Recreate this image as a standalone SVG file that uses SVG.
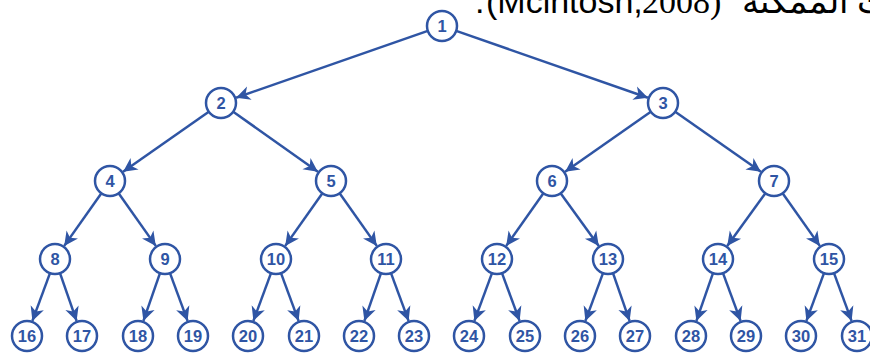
<svg xmlns="http://www.w3.org/2000/svg" width="870" height="356" viewBox="0 0 870 356">
  <style>
    .node circle { fill: #ffffff; stroke: #2F55A4; stroke-width: 2.5; }
    .node text { font-family: "Liberation Sans", Arial, sans-serif; font-weight: bold; font-size: 16.5px; fill: #2F55A4; text-anchor: middle; dominant-baseline: central; }
    #edges line { stroke: #2F55A4; stroke-width: 2.5; marker-end: url(#arrow); }
    .caption { font-family: "Liberation Sans", Arial, sans-serif; font-size: 34px; fill: #000000; }
    .caption-serif { font-family: "Liberation Serif", "Times New Roman", serif; font-size: 34px; fill: #000000; }
  </style>
  <defs>
    <marker id="arrow" markerUnits="userSpaceOnUse" markerWidth="16" markerHeight="16" refX="14" refY="8" orient="auto">
      <path d="M0,1 L14,8 L0,15 L4,8 z" fill="#2F55A4"/>
    </marker>
  </defs>

  <rect width="870" height="356" fill="#ffffff"/>

  <!-- caption line, partly cut off at the top edge -->
  <g id="caption">
    <text class="caption" x="475" y="13">.</text>
    <text class="caption" x="486" y="13">(Mcintosh,</text>
    <text class="caption-serif" x="642" y="13">2008)</text>
    <text class="caption" x="742" y="13" direction="rtl" text-anchor="end">ت الممكنة</text>
  </g>

  <!-- connectors: parent rim to child rim, arrowhead at child -->
  <g id="edges">
    <line x1="427.8" y1="30.9" x2="236.1" y2="97.7"/>
    <line x1="456.2" y1="30.9" x2="647.9" y2="97.7"/>

    <line x1="208.8" y1="111.7" x2="123.1" y2="171.7"/>
    <line x1="233.2" y1="111.7" x2="317.9" y2="171.7"/>
    <line x1="650.8" y1="111.7" x2="565.1" y2="171.7"/>
    <line x1="675.2" y1="111.7" x2="760.9" y2="171.7"/>

    <line x1="101.4" y1="193.3" x2="64.2" y2="245.9"/>
    <line x1="118.6" y1="193.3" x2="155.8" y2="245.9"/>
    <line x1="322.4" y1="193.3" x2="285.2" y2="245.9"/>
    <line x1="339.6" y1="193.3" x2="376.8" y2="245.9"/>
    <line x1="543.4" y1="193.3" x2="506.2" y2="245.9"/>
    <line x1="560.6" y1="193.3" x2="598.8" y2="245.9"/>
    <line x1="765.4" y1="193.3" x2="727.2" y2="245.9"/>
    <line x1="782.6" y1="193.3" x2="819.8" y2="245.9"/>

    <line x1="50" y1="273.1" x2="32.4" y2="320.9"/>
    <line x1="60" y1="273.1" x2="76.6" y2="320.9"/>
    <line x1="160" y1="273.1" x2="143.4" y2="320.9"/>
    <line x1="170" y1="273.1" x2="187.6" y2="320.9"/>
    <line x1="271" y1="273.1" x2="253.4" y2="320.9"/>
    <line x1="281" y1="273.1" x2="298.6" y2="320.9"/>
    <line x1="381" y1="273.1" x2="364.4" y2="320.9"/>
    <line x1="391" y1="273.1" x2="408.6" y2="320.9"/>
    <line x1="492" y1="273.1" x2="474.4" y2="320.9"/>
    <line x1="502" y1="273.1" x2="519.6" y2="320.9"/>
    <line x1="603" y1="273.1" x2="585.4" y2="320.9"/>
    <line x1="613" y1="273.1" x2="629.6" y2="320.9"/>
    <line x1="713" y1="273.1" x2="696.4" y2="320.9"/>
    <line x1="723" y1="273.1" x2="740.6" y2="320.9"/>
    <line x1="824" y1="273.1" x2="806.4" y2="320.9"/>
    <line x1="834" y1="273.1" x2="851.6" y2="320.9"/>
  </g>

  <!-- level 0 -->
  <g id="n1" class="node"><circle cx="442" cy="26" r="15"/><text x="442" y="26">1</text></g>
  <!-- level 1 -->
  <g id="n2" class="node"><circle cx="221" cy="103" r="15"/><text x="221" y="103">2</text></g>
  <g id="n3" class="node"><circle cx="663" cy="103" r="15"/><text x="663" y="103">3</text></g>
  <!-- level 2 -->
  <g id="n4" class="node"><circle cx="110" cy="181" r="15"/><text x="110" y="181">4</text></g>
  <g id="n5" class="node"><circle cx="331" cy="181" r="15"/><text x="331" y="181">5</text></g>
  <g id="n6" class="node"><circle cx="552" cy="181" r="15"/><text x="552" y="181">6</text></g>
  <g id="n7" class="node"><circle cx="774" cy="181" r="15"/><text x="774" y="181">7</text></g>
  <!-- level 3 -->
  <g id="n8" class="node"><circle cx="55" cy="259" r="15"/><text x="55" y="259">8</text></g>
  <g id="n9" class="node"><circle cx="165" cy="259" r="15"/><text x="165" y="259">9</text></g>
  <g id="n10" class="node"><circle cx="276" cy="259" r="15"/><text x="276" y="259">10</text></g>
  <g id="n11" class="node"><circle cx="386" cy="259" r="15"/><text x="386" y="259">11</text></g>
  <g id="n12" class="node"><circle cx="497" cy="259" r="15"/><text x="497" y="259">12</text></g>
  <g id="n13" class="node"><circle cx="608" cy="259" r="15"/><text x="608" y="259">13</text></g>
  <g id="n14" class="node"><circle cx="718" cy="259" r="15"/><text x="718" y="259">14</text></g>
  <g id="n15" class="node"><circle cx="829" cy="259" r="15"/><text x="829" y="259">15</text></g>
  <!-- level 4 (leaves) -->
  <g id="n16" class="node"><circle cx="27" cy="336" r="15"/><text x="27" y="336">16</text></g>
  <g id="n17" class="node"><circle cx="82" cy="336" r="15"/><text x="82" y="336">17</text></g>
  <g id="n18" class="node"><circle cx="138" cy="336" r="15"/><text x="138" y="336">18</text></g>
  <g id="n19" class="node"><circle cx="193" cy="336" r="15"/><text x="193" y="336">19</text></g>
  <g id="n20" class="node"><circle cx="248" cy="336" r="15"/><text x="248" y="336">20</text></g>
  <g id="n21" class="node"><circle cx="304" cy="336" r="15"/><text x="304" y="336">21</text></g>
  <g id="n22" class="node"><circle cx="359" cy="336" r="15"/><text x="359" y="336">22</text></g>
  <g id="n23" class="node"><circle cx="414" cy="336" r="15"/><text x="414" y="336">23</text></g>
  <g id="n24" class="node"><circle cx="469" cy="336" r="15"/><text x="469" y="336">24</text></g>
  <g id="n25" class="node"><circle cx="525" cy="336" r="15"/><text x="525" y="336">25</text></g>
  <g id="n26" class="node"><circle cx="580" cy="336" r="15"/><text x="580" y="336">26</text></g>
  <g id="n27" class="node"><circle cx="635" cy="336" r="15"/><text x="635" y="336">27</text></g>
  <g id="n28" class="node"><circle cx="691" cy="336" r="15"/><text x="691" y="336">28</text></g>
  <g id="n29" class="node"><circle cx="746" cy="336" r="15"/><text x="746" y="336">29</text></g>
  <g id="n30" class="node"><circle cx="801" cy="336" r="15"/><text x="801" y="336">30</text></g>
  <g id="n31" class="node"><circle cx="857" cy="336" r="15"/><text x="857" y="336">31</text></g>
</svg>
